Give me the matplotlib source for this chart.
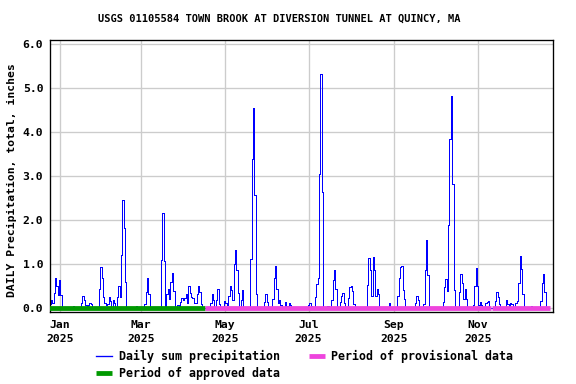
import numpy as np
import pandas as pd
import matplotlib
matplotlib.use("Agg")
import matplotlib.pyplot as plt
import matplotlib.dates as mdates
from matplotlib.lines import Line2D

title = "USGS 01105584 TOWN BROOK AT DIVERSION TUNNEL AT QUINCY, MA"
ylabel = "DAILY Precipitation, total, inches"

series_start = "2024-12-25"
series_end = "2025-12-23"

rain_dates = [
    "2024-12-25", "2024-12-26", "2024-12-27", "2024-12-28", "2024-12-29", "2024-12-30", "2024-12-31",
    "2025-01-01", "2025-01-02", "2025-01-11",
    "2025-01-17", "2025-01-18", "2025-01-19", "2025-01-20", "2025-01-22", "2025-01-23", "2025-01-24",
    "2025-01-30", "2025-01-31", "2025-02-01", "2025-02-02", "2025-02-03", "2025-02-04",
    "2025-02-05", "2025-02-06", "2025-02-07", "2025-02-09", "2025-02-10",
    "2025-02-12", "2025-02-13", "2025-02-14", "2025-02-15", "2025-02-16", "2025-02-17", "2025-02-18",
    "2025-02-26",
    "2025-03-04", "2025-03-05", "2025-03-06", "2025-03-07",
    "2025-03-16", "2025-03-17", "2025-03-18",
    "2025-03-20", "2025-03-21", "2025-03-22", "2025-03-23", "2025-03-24", "2025-03-25",
    "2025-03-28", "2025-03-29", "2025-03-30", "2025-03-31", "2025-04-01", "2025-04-02", "2025-04-03",
    "2025-04-04", "2025-04-05", "2025-04-06", "2025-04-07", "2025-04-08", "2025-04-09",
    "2025-04-10", "2025-04-11", "2025-04-12", "2025-04-13", "2025-04-14",
    "2025-04-21", "2025-04-22", "2025-04-23", "2025-04-25", "2025-04-26", "2025-04-27",
    "2025-05-01", "2025-05-02", "2025-05-03", "2025-05-04", "2025-05-05", "2025-05-06", "2025-05-07",
    "2025-05-08", "2025-05-09", "2025-05-10", "2025-05-11", "2025-05-13", "2025-05-14",
    "2025-05-20", "2025-05-21", "2025-05-22", "2025-05-23", "2025-05-24",
    "2025-05-30", "2025-05-31", "2025-06-01",
    "2025-06-05", "2025-06-06", "2025-06-07", "2025-06-08", "2025-06-09", "2025-06-10", "2025-06-11",
    "2025-06-14", "2025-06-16", "2025-06-17", "2025-06-18",
    "2025-07-01", "2025-07-02", "2025-07-03",
    "2025-07-06", "2025-07-07", "2025-07-08", "2025-07-09", "2025-07-10", "2025-07-11",
    "2025-07-15", "2025-07-18", "2025-07-19", "2025-07-20", "2025-07-21",
    "2025-07-24", "2025-07-25", "2025-07-26", "2025-07-27",
    "2025-07-30", "2025-07-31", "2025-08-01", "2025-08-02", "2025-08-03",
    "2025-08-13", "2025-08-14", "2025-08-15", "2025-08-16", "2025-08-17", "2025-08-18",
    "2025-08-19", "2025-08-20", "2025-08-21", "2025-08-29",
    "2025-09-04", "2025-09-05", "2025-09-06", "2025-09-07", "2025-09-08", "2025-09-09",
    "2025-09-17", "2025-09-18", "2025-09-19",
    "2025-09-23", "2025-09-24", "2025-09-25", "2025-09-26",
    "2025-10-07", "2025-10-08", "2025-10-09", "2025-10-10",
    "2025-10-11", "2025-10-12", "2025-10-13", "2025-10-14", "2025-10-15",
    "2025-10-19", "2025-10-20", "2025-10-21", "2025-10-22", "2025-10-23", "2025-10-24",
    "2025-10-29", "2025-10-30", "2025-10-31", "2025-11-01", "2025-11-02", "2025-11-03", "2025-11-04",
    "2025-11-07", "2025-11-08", "2025-11-09",
    "2025-11-14", "2025-11-15", "2025-11-16", "2025-11-17",
    "2025-11-22", "2025-11-23", "2025-11-25", "2025-11-26",
    "2025-11-29", "2025-11-30", "2025-12-01", "2025-12-02", "2025-12-03", "2025-12-04",
    "2025-12-10", "2025-12-17", "2025-12-18", "2025-12-19", "2025-12-20",
]
rain_values = [
    0.10, 0.20, 0.12, 0.35, 0.68, 0.50, 0.30,
    0.64, 0.30, 0.05,
    0.13, 0.28, 0.20, 0.07, 0.07, 0.12, 0.09,
    0.45, 0.93, 0.70, 0.25, 0.12, 0.07,
    0.10, 0.25, 0.17, 0.18, 0.13,
    0.25, 0.50, 0.25, 1.21, 2.46, 1.82, 0.60,
    0.05,
    0.10, 0.36, 0.68, 0.33,
    1.10, 2.17, 1.08,
    0.32, 0.43, 0.21, 0.59, 0.80, 0.40,
    0.07, 0.05, 0.15, 0.23, 0.18, 0.24, 0.32,
    0.12, 0.51, 0.34, 0.25, 0.23, 0.12,
    0.12, 0.33, 0.51, 0.36, 0.10,
    0.13, 0.32, 0.20, 0.20, 0.45, 0.10,
    0.17, 0.13, 0.08, 0.28, 0.51, 0.42, 0.18,
    1.00, 1.32, 0.87, 0.34, 0.20, 0.42,
    1.12, 3.39, 4.55, 2.57, 0.32,
    0.15, 0.32, 0.15,
    0.21, 0.70, 0.96, 0.45, 0.12, 0.19, 0.08,
    0.14, 0.05, 0.13, 0.08,
    0.07, 0.11, 0.05,
    0.26, 0.56, 0.70, 3.05, 5.32, 2.65,
    0.05, 0.19, 0.64, 0.87, 0.45,
    0.15, 0.27, 0.35, 0.12,
    0.23, 0.48, 0.51, 0.39, 0.10,
    0.54, 1.14, 0.86, 0.27, 1.16, 0.87,
    0.27, 0.43, 0.32, 0.13,
    0.28, 0.70, 0.93, 0.96, 0.42, 0.21,
    0.11, 0.28, 0.19,
    0.10, 0.86, 1.55, 0.76,
    0.14, 0.48, 0.67, 0.40,
    1.89, 3.85, 4.83, 2.83, 0.42,
    0.38, 0.78, 0.58, 0.21, 0.43, 0.21,
    0.08, 0.50, 0.92, 0.51, 0.08, 0.14, 0.07,
    0.12, 0.15, 0.16,
    0.17, 0.36, 0.26, 0.10,
    0.19, 0.09, 0.13, 0.09,
    0.11, 0.17, 0.57, 1.19, 0.89, 0.32,
    0.05, 0.17, 0.57, 0.78, 0.36,
]
missing_dates = ["2025-11-11"]

approved_periods = [("2024-12-25", "2025-04-16")]
provisional_periods = [("2025-04-17", "2025-11-10"), ("2025-11-12", "2025-12-23")]

xtick_dates = ["2025-01-01", "2025-03-01", "2025-05-01", "2025-07-01", "2025-09-01", "2025-11-01"]
xtick_labels = ["Jan\n2025", "Mar\n2025", "May\n2025", "Jul\n2025", "Sep\n2025", "Nov\n2025"]
yticks = [0, 1, 2, 3, 4, 5, 6]
ytick_labels = ["0.0", "1.0", "2.0", "3.0", "4.0", "5.0", "6.0"]

legend_labels = ["Daily sum precipitation", "Period of approved data", "Period of provisional data"]

BLUE = "#0000FF"
GREEN = "#009900"
PINK = "#EE44DD"
GRID = "#CCCCCC"

plt.rcParams["font.family"] = ["DejaVu Sans Mono"]
plt.rcParams["font.weight"] = "bold"
FS = 8.5

# ---- data series ----
idx = pd.date_range(series_start, series_end, freq="D")
s = pd.Series(0.0, index=idx)
s.loc[pd.to_datetime(rain_dates)] = rain_values
s.loc[pd.to_datetime(missing_dates)] = np.nan

fig = plt.figure(figsize=(6, 4), dpi=96)
ax = fig.add_axes([50 / 576, 1 - 312 / 384, 503 / 576, 272 / 384])

ax.plot(s.index, s.values, color=BLUE, lw=0.75, drawstyle="steps-mid",
        antialiased=False, zorder=2)

half = pd.Timedelta(hours=12)
for a, b in approved_periods:
    ax.plot([pd.Timestamp(a) - half, pd.Timestamp(b) + half], [0, 0], color=GREEN,
            lw=3.6, solid_capstyle="butt", zorder=3)
for a, b in provisional_periods:
    ax.plot([pd.Timestamp(a) - half, pd.Timestamp(b) + half], [0, 0], color=PINK,
            lw=3.6, solid_capstyle="butt", zorder=3)

jan1 = pd.Timestamp("2025-01-01")
ax.set_xlim(jan1 - pd.Timedelta(days=7.1), jan1 + pd.Timedelta(days=358.8))
ax.set_ylim(-0.084, 6.1)

ax.set_xticks(pd.to_datetime(xtick_dates))
ax.set_xticklabels(xtick_labels, fontsize=FS, fontweight="bold", linespacing=1.45)
ax.set_yticks(yticks)
ax.set_yticklabels(ytick_labels, fontsize=FS, fontweight="bold")
ax.tick_params(axis="both", length=0)
ax.tick_params(axis="y", pad=5)
ax.tick_params(axis="x", pad=6)

ax.grid(True, color=GRID, lw=1.0, zorder=0)
ax.set_axisbelow(True)
for sp in ax.spines.values():
    sp.set_color("black")
    sp.set_linewidth(1.0)

fig.text(12 / 576, 1 - 180 / 384, ylabel, rotation=90, ha="center", va="center",
         fontsize=FS, fontweight="bold")
fig.text(279 / 576, 1 - 19 / 384, title, ha="center", va="center",
         fontsize=7.8, fontweight="bold")

handles = [
    Line2D([], [], color=BLUE, lw=1.0),
    Line2D([], [], color=GREEN, lw=3.6, solid_capstyle="butt"),
    Line2D([], [], color=PINK, lw=3.6, solid_capstyle="butt"),
]
leg = fig.legend(handles, legend_labels, loc="upper left", bbox_to_anchor=(96 / 576, 1 - 350 / 384),
                 ncol=2, frameon=False, fontsize=8.7, borderpad=0, borderaxespad=0,
                 handlelength=1.4, handletextpad=0.55, columnspacing=2.5, labelspacing=0.3)
for t in leg.get_texts():
    t.set_fontweight("bold")

fig.savefig("out.png", dpi=96)
